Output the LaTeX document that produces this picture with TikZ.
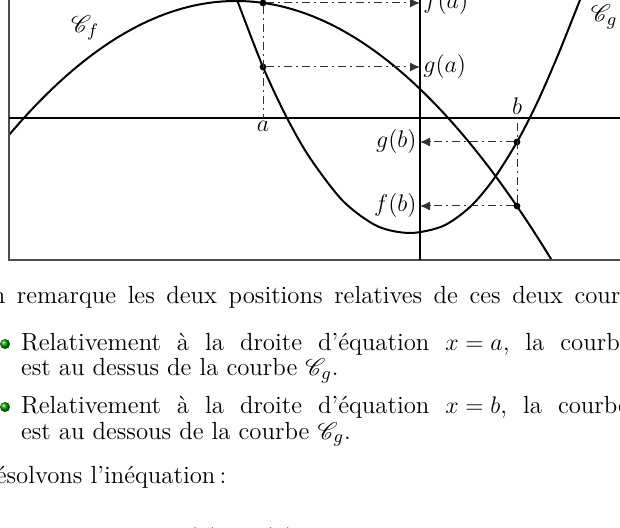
\documentclass[tikz,border=0pt]{standalone}
\usepackage{mathrsfs}
\usetikzlibrary{arrows.meta}

\begin{document}
\begin{tikzpicture}[x=0.5pt,y=-0.5pt,
	pt/.style={circle,fill=black,inner sep=0,outer sep=0,minimum size=3.4pt},
	lbl/.style={font=\fontsize{12.4}{15}\selectfont,inner sep=1.5pt},
	txt/.style={font=\fontsize{12.4}{15}\selectfont,anchor=base west,inner sep=0,outer sep=0},
	proj/.style={dash pattern=on 4pt off 2pt on 1pt off 2pt,line width=0.5pt,black!80},
	fl/.style={proj,-{Latex[length=5pt,width=4.5pt]}},
	puce/.style={circle,inner sep=0,minimum size=5pt,ball color=green!60!black}]
	\useasboundingbox (0,0) rectangle (620,528);
	\clip (0,0) rectangle (620,528);
	\begin{scope}
		\clip (9,-20) rectangle (640,260);
		\draw[line width=1pt] plot[domain=0:570,samples=120] (\x,{0.26*((\x-236)/10)^2+1});
		\draw[line width=1pt] plot[smooth] coordinates {(232,-12) (237,0) (263,67) (287,118) (310,158) (343,201) (377,226) (410,233) (443,226) (470,207) (493,180) (517,142) (537,103) (558,55) (580,0) (585,-12)};
	\end{scope}
	\draw[black!70,line width=0.6pt] (9,-20) rectangle (640,260);
	\draw[line width=1pt] (9,118) -- (640,118);
	\draw[line width=1pt] (420,-20) -- (420,260);
	\node[pt] (fa) at (263,3) {};
	\node[pt] (ga) at (263,67) {};
	\node[pt] (gb) at (517,142) {};
	\node[pt] (fb) at (517,206) {};
	\node[lbl,anchor=north] (a) at (263,118) {$a$};
	\node[lbl,anchor=south] (b) at (517,118) {$b$};
	\node[lbl,anchor=west] (lfa) at (420,3) {$f(a)$};
	\node[lbl,anchor=west] (lga) at (420,67) {$g(a)$};
	\node[lbl,anchor=east] (lgb) at (420,142) {$g(b)$};
	\node[lbl,anchor=east] (lfb) at (420,206) {$f(b)$};
	\node[lbl] (cf) at (85,28) {$\mathscr{C}_f$};
	\node[lbl] (cg) at (604,17) {$\mathscr{C}_g$};
	\draw[proj] (fa) -- (a.north);
	\draw[proj] (fb) -- (b.south);
	\draw[fl] (fa) -- (lfa.west);
	\draw[fl] (ga) -- (lga.west);
	\draw[fl] (gb) -- (lgb.east);
	\draw[fl] (fb) -- (lfb.east);
	\node[txt] (t1) at (-27,304) {\spaceskip=5.8pt On remarque les deux positions relatives de ces deux courbes};
	\node[puce] (p1) at (5,344) {};
	\node[txt] (t2) at (21,351) {\spaceskip=8pt Relativement à la droite d’équation $x=a$, la courbe $\mathscr{C}_f$};
	\node[txt] (t3) at (21,376) {est au dessus de la courbe $\mathscr{C}_g$.};
	\node[puce] (p2) at (5,407) {};
	\node[txt] (t4) at (21,414) {\spaceskip=8pt Relativement à la droite d’équation $x=b$, la courbe $\mathscr{C}_f$};
	\node[txt] (t5) at (21,439) {est au dessous de la courbe $\mathscr{C}_g$.};
	\node[txt] (t6) at (-22,483) {Résolvons l’inéquation\,:};
	\node[txt] (t7) at (174,545) {$f(x)>g(x)$};
\end{tikzpicture}
\end{document}
